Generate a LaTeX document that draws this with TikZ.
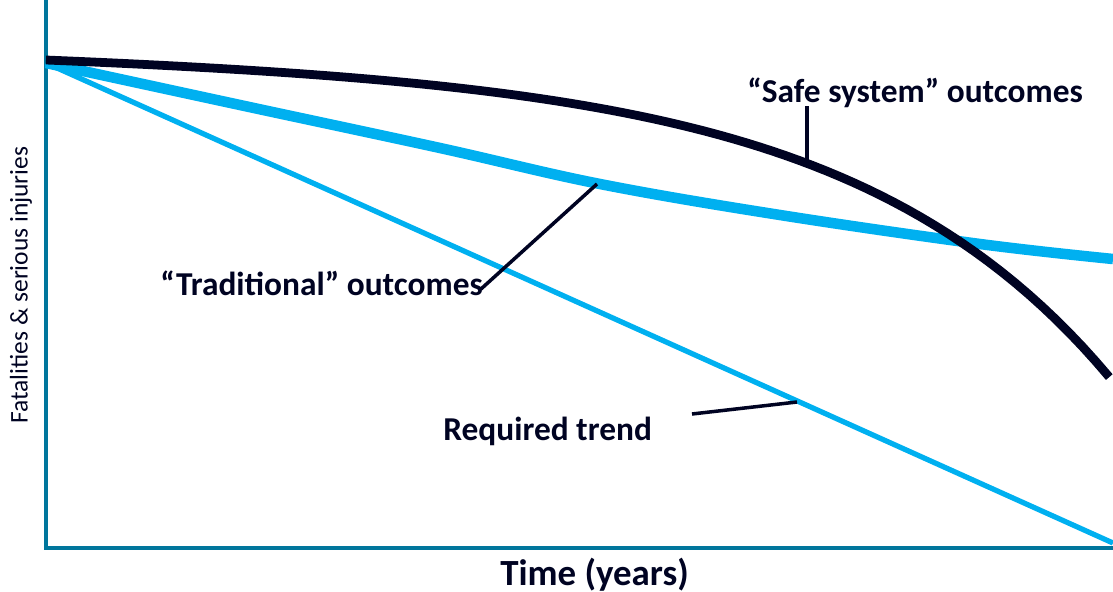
\documentclass[tikz,border=0pt]{standalone}
\usepackage{fontspec}
\setmainfont{Carlito}
\usepackage{tikz}
\usetikzlibrary{positioning}
\usepackage{xcolor}
\definecolor{ssnavy}{RGB}{0,3,34}
\definecolor{sslightblue}{RGB}{0,176,240}
\definecolor{ssaxis}{RGB}{0,118,156}
\tikzstyle{leader} = [line width=2pt, color=ssnavy]
\tikzstyle{axisline} = [line width=2.2pt, color=ssaxis]

\begin{document}
\begin{tikzpicture}[
    x=0.02cm, y=-0.02cm,
    every node/.style={inner sep=0pt, text=ssnavy},
    label/.style={anchor=base west, font=\fontsize{19}{21}\selectfont\bfseries},
    safeline/.style={line width=5pt, color=ssnavy},
    tradline/.style={line width=6pt, color=sslightblue},
    reqline/.style={line width=3pt, color=sslightblue}
]
\useasboundingbox (0,0) rectangle (1113,592);

% Axes
\coordinate (origin) at (46,548);
\coordinate (ytop) at (46,0);
\coordinate (xend) at (1113,548);
\draw[axisline] (ytop) -- (origin) -- (xend);

% Axis titles
\node[font=\fontsize{21}{23}\selectfont\bfseries, anchor=base west] (time) at (500,585) {Time (years)};
\node[font=\fontsize{14.5}{16}\selectfont, rotate=90] (yaxis) at (21,285) {Fatalities \& serious injuries};

% Curves
\draw[reqline] (46,63) -- (1113,543);
\draw[tradline] plot[smooth, tension=0.6] coordinates {(46,63) (240,105) (440,148) (600,184) (780,215) (980,244) (1113,259)};
\draw[safeline] plot[domain=0:1, samples=80] ({46+1064*\x}, {60+25*\x+4.46*(exp(4.2*\x)-1)});

% Labels
\node[label] (safe) at (747,102) {“Safe system” outcomes};
\node[label] (trad) at (160,295) {“Traditional” outcomes};
\node[label] (req) at (443,440) {Required trend};

% Leader lines
\coordinate (safetip) at (807,106);
\coordinate (safept) at (807,162);
\coordinate (tradtip) at (481,289);
\coordinate (tradpt) at (597,184);
\coordinate (reqtip) at (692,414);
\coordinate (reqpt) at (797,402);
\draw[leader] (safetip) -- (safept);
\draw[leader] (tradtip) -- (tradpt);
\draw[leader] (reqtip) -- (reqpt);

\end{tikzpicture}
\end{document}
